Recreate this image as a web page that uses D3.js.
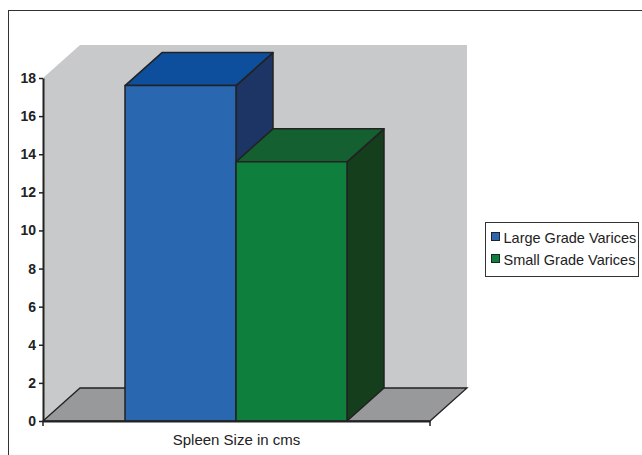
<!DOCTYPE html>
<html>
<head>
<meta charset="utf-8">
<script src="https://cdn.jsdelivr.net/npm/d3@7"></script>
<style>
  body { margin: 0; background: #fff; }
  svg { display: block; }
</style>
</head>
<body>
<svg id="chart" width="642" height="455"></svg>
<script>
// chart data
const category = 'Spleen Size in cms';
const series = ['Large Grade Varices', 'Small Grade Varices'];
const values = [17.6, 13.6];
const tickValues = [0, 2, 4, 6, 8, 10, 12, 14, 16, 18];

const frontColors = ['#2a67b1', '#0f7f3e'];
const topColors = ['#0d4f9c', '#156031'];
const sideColors = ['#1c3564', '#143e1c'];

const svg = d3.select('#chart');

// plot frame
const left = 43, right = 430, bottom = 421;
const dx = 37, dy = -33; // depth offset of the 3d box

const y = d3.scaleLinear().domain([0, 18]).range([bottom, 78]);
const xCat = d3.scaleBand().domain([category]).range([left, right]);
const x = d3.scaleBand().domain(series).range([125, 347]);

// outer border
svg.append('rect')
    .attr('x', 8.5).attr('y', 10.5)
    .attr('width', 700).attr('height', 500)
    .attr('fill', 'none')
    .attr('stroke', '#333')
    .attr('stroke-width', 1);

const line = d3.line();
const yTop = y(18);

// back wall + side wall
svg.append('path')
    .attr('d', line([[left, yTop], [left + dx, yTop + dy], [right + dx, yTop + dy],
                     [right + dx, bottom + dy], [left + dx, bottom + dy], [left, bottom]]) + 'Z')
    .attr('fill', '#c8c9cb');

// floor
svg.append('path')
    .attr('d', line([[left, bottom], [left + dx, bottom + dy], [right + dx, bottom + dy], [right, bottom]]) + 'Z')
    .attr('fill', '#98999b')
    .attr('stroke', '#222')
    .attr('stroke-width', 1.3);

// bars as 3d boxes
series.forEach((s, i) => {
    const x0 = x(s), x1 = x(s) + x.bandwidth();
    const yt = y(values[i]);
    const g = svg.append('g')
        .attr('stroke', '#222')
        .attr('stroke-width', 1.5)
        .attr('stroke-linejoin', 'round');
    // side
    g.append('path')
        .attr('d', line([[x1, bottom], [x1 + dx, bottom + dy], [x1 + dx, yt + dy], [x1, yt]]) + 'Z')
        .attr('fill', sideColors[i]);
    // top
    g.append('path')
        .attr('d', line([[x0, yt], [x0 + dx, yt + dy], [x1 + dx, yt + dy], [x1, yt]]) + 'Z')
        .attr('fill', topColors[i]);
    // front
    g.append('rect')
        .attr('x', x0).attr('y', yt)
        .attr('width', x1 - x0).attr('height', bottom - yt)
        .attr('fill', frontColors[i]);
});

// y axis
const yAxis = svg.append('g')
    .attr('transform', `translate(${left},0)`)
    .call(d3.axisLeft(y).tickValues(tickValues).tickSize(4).tickSizeOuter(0).tickPadding(3));
yAxis.select('.domain').attr('stroke', '#222').attr('stroke-width', 2);
yAxis.selectAll('.tick line').attr('stroke', '#222').attr('stroke-width', 1.5);
yAxis.selectAll('.tick text')
    .attr('fill', '#222')
    .style('font-family', '"Liberation Sans Narrow", "Liberation Sans", Arial, sans-serif')
    .style('font-weight', 'bold')
    .style('font-size', '14px');

// x axis
const xAxis = svg.append('g')
    .attr('transform', `translate(0,${bottom})`)
    .call(d3.axisBottom(xCat).tickSize(0).tickPadding(13));
xAxis.select('.domain').attr('stroke', '#222').attr('stroke-width', 2);
xAxis.selectAll('.tick text')
    .attr('fill', '#222')
    .style('font-family', '"Liberation Sans", Arial, sans-serif')
    .style('font-size', '15px');
[left, right].forEach(px => {
    xAxis.append('line')
        .attr('x1', px).attr('x2', px)
        .attr('y1', 0).attr('y2', 5)
        .attr('stroke', '#222').attr('stroke-width', 1.5);
});

// legend
const legend = svg.append('g').attr('transform', 'translate(485.5,222.5)');
legend.append('rect')
    .attr('width', 153).attr('height', 54)
    .attr('fill', '#fff')
    .attr('stroke', '#333');
series.forEach((s, i) => {
    const row = legend.append('g').attr('transform', `translate(6,${16 + i * 22})`);
    row.append('rect')
        .attr('x', 0).attr('y', -6)
        .attr('width', 8).attr('height', 8)
        .attr('fill', frontColors[i])
        .attr('stroke', '#222');
    row.append('text')
        .attr('x', 12).attr('y', 0)
        .attr('dy', '0.32em')
        .attr('fill', '#222')
        .style('font-family', '"Liberation Sans", Arial, sans-serif')
        .style('font-size', '14.5px')
        .text(s);
});
</script>
</body>
</html>
